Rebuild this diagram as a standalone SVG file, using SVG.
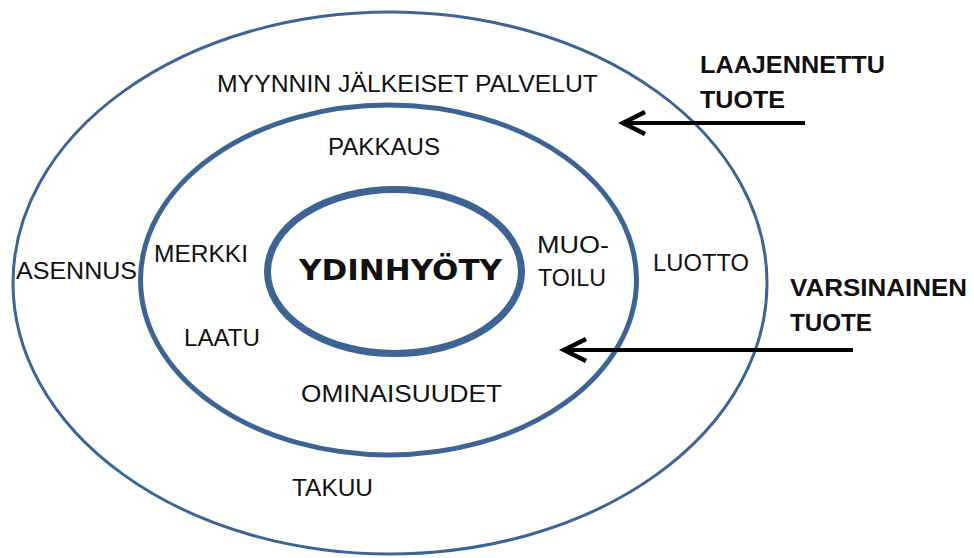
<svg xmlns="http://www.w3.org/2000/svg" width="974" height="558" viewBox="0 0 974 558">
<style>
.ring{fill:none;stroke:#3e6494}
.t{font-family:"Liberation Sans",Arial,sans-serif;font-size:24px;fill:#111}
.b{font-family:"Liberation Sans",Arial,sans-serif;font-size:24px;font-weight:bold;fill:#111}
.core{font-family:"DejaVu Sans",Verdana,sans-serif;font-size:28px;font-weight:bold;fill:#111}
.arrow{fill:none;stroke:#000;stroke-width:4}
</style>
<defs>
<marker id="chev" markerUnits="userSpaceOnUse" viewBox="-26 -16 32 32" markerWidth="32" markerHeight="32" refX="0" refY="0" orient="auto">
<path d="M-22,-11 L0,0 L-22,11" fill="none" stroke="#000" stroke-width="4.5" stroke-linejoin="miter"/>
</marker>
</defs>
<rect width="974" height="558" fill="#fff"/>
<g id="outer">
<ellipse class="ring" cx="390" cy="283" rx="377" ry="271" stroke-width="3"/>
<text class="t" x="217" y="92" textLength="381" lengthAdjust="spacingAndGlyphs">MYYNNIN JÄLKEISET PALVELUT</text>
<text class="t" x="16" y="279" textLength="121" lengthAdjust="spacingAndGlyphs">ASENNUS</text>
<text class="t" x="653" y="271" textLength="96" lengthAdjust="spacingAndGlyphs">LUOTTO</text>
<text class="t" x="292" y="496" textLength="81" lengthAdjust="spacingAndGlyphs">TAKUU</text>
</g>
<g id="middle">
<ellipse class="ring" cx="388.5" cy="280" rx="248" ry="175" stroke-width="5"/>
<text class="t" x="328" y="155" textLength="112" lengthAdjust="spacingAndGlyphs">PAKKAUS</text>
<text class="t" x="154" y="262" textLength="94" lengthAdjust="spacingAndGlyphs">MERKKI</text>
<text class="t" x="184" y="346" textLength="76" lengthAdjust="spacingAndGlyphs">LAATU</text>
<text class="t" x="537" y="253" textLength="72" lengthAdjust="spacingAndGlyphs">MUO-</text>
<text class="t" x="538" y="286" textLength="68" lengthAdjust="spacingAndGlyphs">TOILU</text>
<text class="t" x="301" y="402" textLength="201" lengthAdjust="spacingAndGlyphs">OMINAISUUDET</text>
</g>
<g id="core">
<ellipse class="ring" cx="394.5" cy="271.5" rx="127" ry="82" stroke-width="7"/>
<text class="core" x="299" y="280" textLength="203" lengthAdjust="spacingAndGlyphs">YDINHYÖTY</text>
</g>
<g id="label-laajennettu">
<text class="b" x="700" y="73" textLength="185" lengthAdjust="spacingAndGlyphs">LAAJENNETTU</text>
<text class="b" x="700" y="108" textLength="85" lengthAdjust="spacingAndGlyphs">TUOTE</text>
</g>
<g id="label-varsinainen">
<text class="b" x="790" y="296" textLength="177" lengthAdjust="spacingAndGlyphs">VARSINAINEN</text>
<text class="b" x="790" y="331" textLength="82" lengthAdjust="spacingAndGlyphs">TUOTE</text>
</g>
<g id="connectors">
<path class="arrow" d="M805,123 L623,123" marker-end="url(#chev)"/>
<path class="arrow" d="M853,350 L564,350" marker-end="url(#chev)"/>
</g>
</svg>
